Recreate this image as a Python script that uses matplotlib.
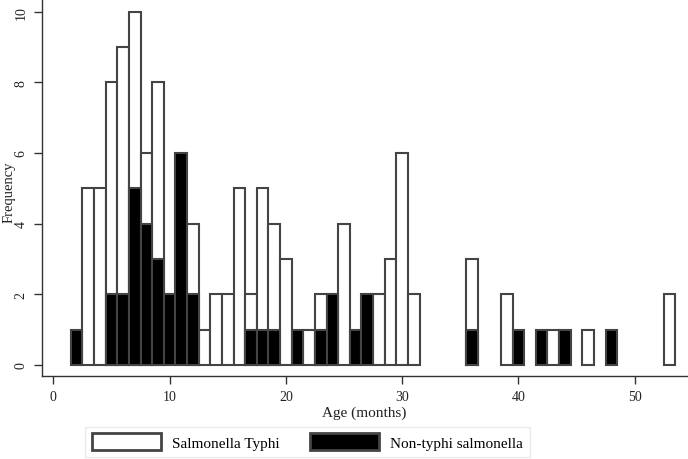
import matplotlib
matplotlib.use("Agg")
import matplotlib.pyplot as plt
from matplotlib.patches import Patch

# counts per month of age (bins 1 month wide, centred on whole months)
typhi_months = [3, 4, 5, 6, 7, 8, 9, 12, 13, 14, 15, 16, 17, 18, 19, 20, 22, 23,
                25, 28, 29, 30, 31, 36, 39, 43, 46, 53]
typhi_counts = [5, 5, 8, 9, 10, 6, 8, 4, 1, 2, 2, 5, 2, 5, 4, 3, 1, 2,
                4, 2, 3, 6, 2, 3, 2, 1, 1, 2]

nontyphi_months = [2, 5, 6, 7, 8, 9, 10, 11, 12, 17, 18, 19, 21, 23, 24, 26, 27,
                   36, 40, 42, 44, 48]
nontyphi_counts = [1, 2, 2, 5, 4, 3, 2, 6, 2, 1, 1, 1, 1, 1, 2, 1, 2,
                   1, 1, 1, 1, 1]

xticks = [0, 10, 20, 30, 40, 50]
yticks = [0, 2, 4, 6, 8, 10]

plt.rcParams['font.family'] = ['Liberation Serif', 'DejaVu Serif']
edge = '#444444'

fig = plt.figure(figsize=(6.88, 4.6), dpi=100)
ax = fig.add_axes([0.0606, 0.1804, 0.9379, 0.8196])

ax.bar(typhi_months, typhi_counts, width=1, color='white', edgecolor=edge,
       linewidth=1.5, zorder=2)
ax.bar(nontyphi_months, nontyphi_counts, width=1, color='black', edgecolor=edge,
       linewidth=1.5, zorder=3)

ax.set_xlim(-1.0, 54.5)
ax.set_ylim(-0.31, 10.36)
ax.set_xticks(xticks)
ax.set_yticks(yticks)
ax.set_yticklabels([str(v) for v in yticks], rotation=90, va='center')
ax.tick_params(axis='both', length=6, width=1, color='#333333',
               labelsize=10, labelcolor='#222222', pad=4)
ax.spines['top'].set_visible(False)
ax.spines['right'].set_visible(False)
for s in ['left', 'bottom']:
    ax.spines[s].set_color('#333333')
    ax.spines[s].set_linewidth(1)

ax.set_xlabel('Age (months)', fontsize=11, labelpad=2, color='#222222')
ax.set_ylabel('Frequency', fontsize=10.5, color='#222222', va='center')
ax.yaxis.set_label_coords(-0.051, 0.49)

handles = [Patch(facecolor='white', edgecolor=edge, linewidth=2),
           Patch(facecolor='black', edgecolor=edge, linewidth=2)]
leg = fig.legend(handles, ['Salmonella Typhi', 'Non-typhi salmonella'],
                 loc='lower left', bbox_to_anchor=(85 / 688, 2 / 460),
                 ncol=2, fontsize=11, frameon=True, fancybox=False,
                 handlelength=4.5, handleheight=1.3, handletextpad=0.75,
                 columnspacing=2.0, borderpad=0.45, borderaxespad=0)
leg.get_frame().set_edgecolor('#e6e6e6')
leg.get_frame().set_linewidth(1)

fig.savefig('out.png', dpi=100)
